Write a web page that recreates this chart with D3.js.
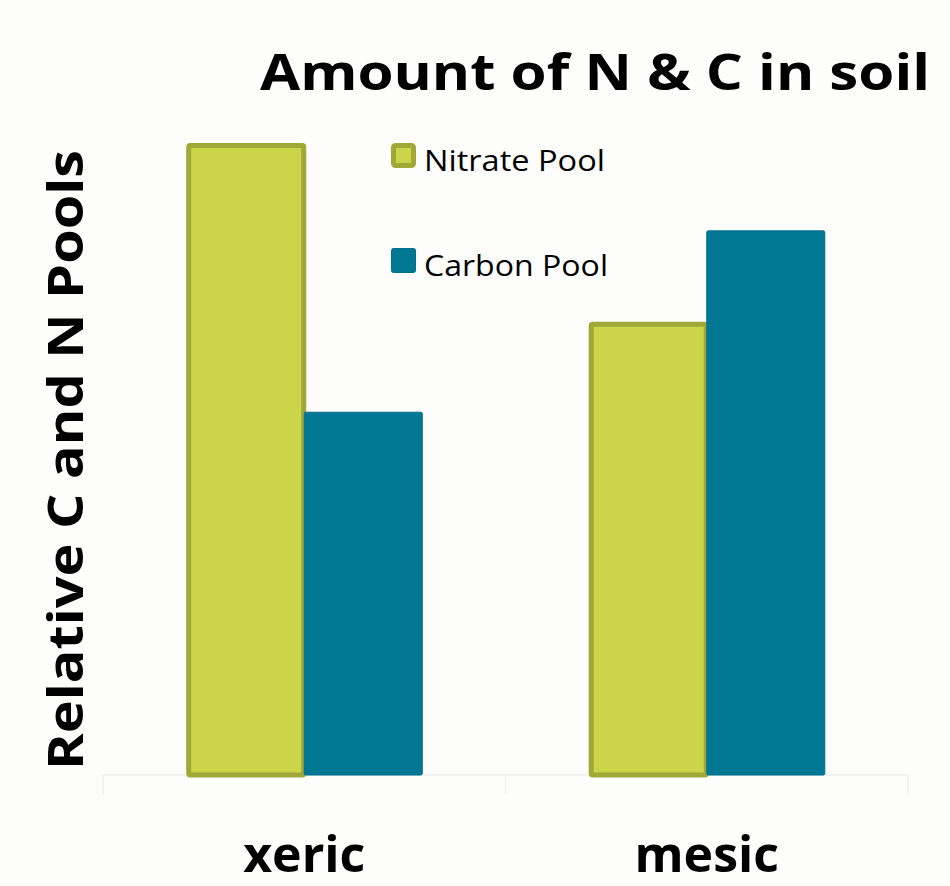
<!DOCTYPE html>
<html>
<head>
<meta charset="utf-8">
<script src="https://cdn.jsdelivr.net/npm/d3@7"></script>
<style>
  body { margin: 0; background: #fdfdfb; }
  svg { display: block; }
</style>
</head>
<body>
<svg id="chart"></svg>
<script>
const categories = ['xeric', 'mesic']
const seriesNames = ['Nitrate Pool', 'Carbon Pool']
const nitrate = [100, 71.7]
const carbon = [57.4, 86.1]

const width = 950
const height = 886
const margin = { top: 143, right: 42, bottom: 111, left: 103 }

const colors = {
  'Nitrate Pool': { fill: '#cbd54a', stroke: '#a0a838' },
  'Carbon Pool': { fill: '#017794', stroke: '#016f8a' }
}

const rows = categories.map((c, i) => ({
  category: c,
  values: [
    { key: 'Nitrate Pool', value: nitrate[i] },
    { key: 'Carbon Pool', value: carbon[i] }
  ]
}))

const svg = d3.select('#chart')
  .attr('width', width)
  .attr('height', height)

svg.append('rect')
  .attr('width', width)
  .attr('height', height)
  .attr('fill', '#fdfdfb')

const x0 = d3.scaleBand()
  .domain(categories)
  .range([margin.left, width - margin.right])

const x1 = d3.scaleBand()
  .domain(seriesNames)
  .range([0, x0.bandwidth()])
  .paddingOuter(0.705)

const y = d3.scaleLinear()
  .domain([0, 100])
  .range([height - margin.bottom, margin.top])

const baseY = y(0)

// faint plot frame below the baseline
const frame = svg.append('g').attr('stroke', '#f0f0ee').attr('fill', 'none').attr('stroke-width', 1.5)
frame.append('path')
  .attr('d', `M${margin.left},${baseY + 20}V${baseY}H${width - margin.right}V${baseY + 20}`)
categories.slice(1).forEach(c => {
  frame.append('line')
    .attr('x1', x0(c)).attr('x2', x0(c))
    .attr('y1', baseY).attr('y2', baseY + 20)
})

// bars
const groups = svg.append('g')
  .selectAll('g')
  .data(rows)
  .join('g')
  .attr('transform', d => `translate(${x0(d.category)},0)`)

groups.selectAll('rect')
  .data(d => d.values)
  .join('rect')
  .attr('x', d => x1(d.key) + (d.key === 'Nitrate Pool' ? 2.5 : 0))
  .attr('y', d => y(d.value) + (d.key === 'Nitrate Pool' ? 2.5 : 0))
  .attr('width', d => x1.bandwidth() - (d.key === 'Nitrate Pool' ? 3 : 0))
  .attr('height', d => baseY - y(d.value) - (d.key === 'Nitrate Pool' ? 2.5 : 0))
  .attr('rx', 1.5)
  .attr('fill', d => colors[d.key].fill)
  .attr('stroke', d => colors[d.key].stroke)
  .attr('stroke-width', d => d.key === 'Nitrate Pool' ? 5 : 1)

// x axis labels
svg.append('g')
  .attr('transform', `translate(0,${baseY})`)
  .call(d3.axisBottom(x0).tickSize(0).tickPadding(0))
  .call(g => g.select('.domain').remove())
  .call(g => g.selectAll('.tick text')
    .attr('dy', null)
    .attr('y', 97)
    .attr('font-family', "'Open Sans', sans-serif")
    .attr('font-weight', 'bold')
    .attr('font-size', 50)
    .attr('fill', '#000'))

// title
svg.append('text')
  .attr('x', 595)
  .attr('y', 90)
  .attr('text-anchor', 'middle')
  .attr('font-family', "'Open Sans', sans-serif")
  .attr('font-weight', 'bold')
  .attr('font-size', 50)
  .attr('textLength', 670)
  .attr('lengthAdjust', 'spacingAndGlyphs')
  .text('Amount of N & C in soil')

// y axis title
svg.append('text')
  .attr('transform', 'translate(83,460) rotate(-90)')
  .attr('text-anchor', 'middle')
  .attr('font-family', "'Open Sans', sans-serif")
  .attr('font-weight', 'bold')
  .attr('font-size', 48)
  .attr('textLength', 620)
  .attr('lengthAdjust', 'spacingAndGlyphs')
  .text('Relative C and N Pools')

// legend
const legend = svg.append('g').attr('transform', 'translate(391,143)')
seriesNames.forEach((name, i) => {
  const g = legend.append('g').attr('transform', `translate(0,${i * 105})`)
  g.append('rect')
    .attr('x', name === 'Nitrate Pool' ? 2.5 : 0.5)
    .attr('y', name === 'Nitrate Pool' ? 2.5 : 0.5)
    .attr('width', name === 'Nitrate Pool' ? 20 : 24)
    .attr('height', name === 'Nitrate Pool' ? 20 : 24)
    .attr('rx', 2)
    .attr('fill', colors[name].fill)
    .attr('stroke', colors[name].stroke)
    .attr('stroke-width', name === 'Nitrate Pool' ? 5 : 1)
  g.append('text')
    .attr('x', 33)
    .attr('y', 28)
    .attr('font-family', "'Open Sans', sans-serif")
    .attr('font-size', 29)
    .attr('textLength', name === 'Nitrate Pool' ? 181 : 184)
    .attr('lengthAdjust', 'spacingAndGlyphs')
    .attr('fill', '#000')
    .text(name)
})
</script>
</body>
</html>
